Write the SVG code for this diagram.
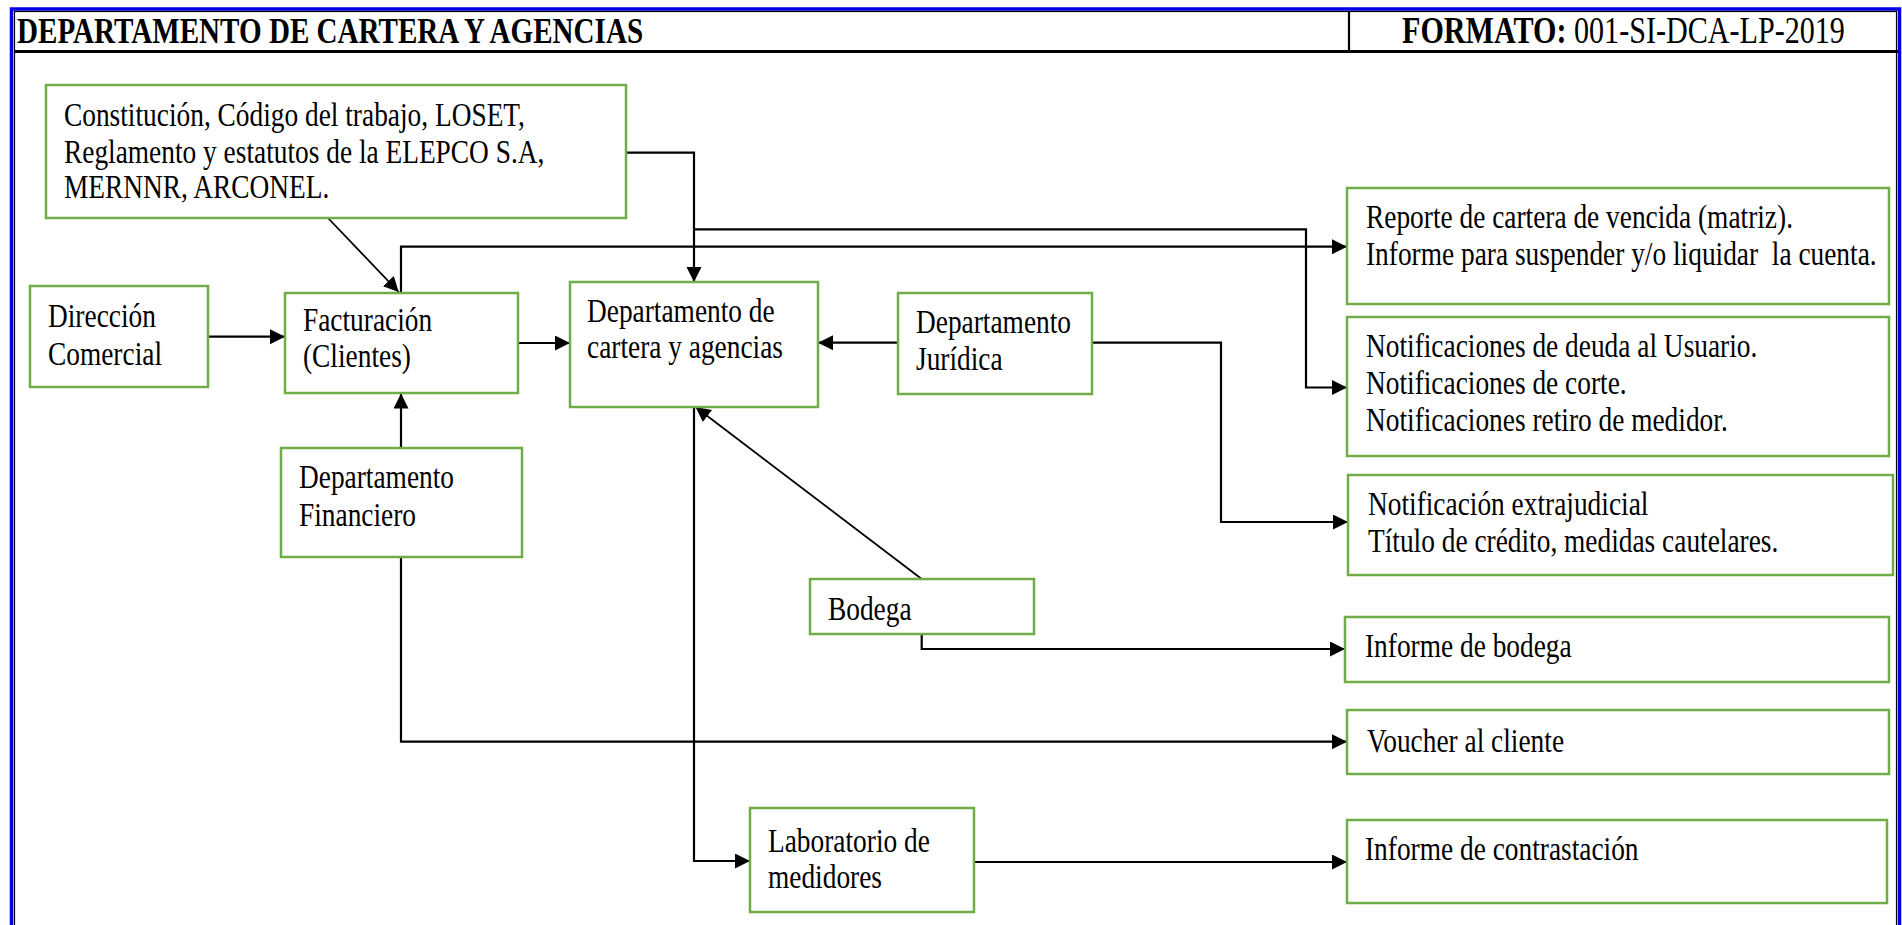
<svg xmlns="http://www.w3.org/2000/svg" width="1902" height="925" viewBox="0 0 1902 925">
  <style>
    .t { font-family: "Liberation Serif", "Times New Roman", serif; font-size: 34px; fill: #000; }
    .h { font-family: "Liberation Serif", "Times New Roman", serif; fill: #000; }
    .b { font-weight: bold; }
    .box { fill: #fff; stroke: #70AD47; stroke-width: 2.5; }
    .ln { fill: none; stroke: #000; stroke-width: 2.2; }
    .thin { stroke-width: 1.8; }
    .pre { white-space: pre; }
  </style>
  <defs>
    <marker id="arr" markerUnits="userSpaceOnUse" markerWidth="16" markerHeight="16" refX="15" refY="7.5" orient="auto">
      <path d="M0,0 L15,7.5 L0,15 Z" fill="#000"/>
    </marker>
  </defs>

  <rect width="1902" height="925" fill="#fff"/>

  <!-- page frame and header row -->
  <g id="frame">
    <rect x="11.5" y="9" width="1888" height="940" fill="none" stroke="#0000E6" stroke-width="3.5"/>
    <rect x="14.5" y="11.5" width="1882" height="935" fill="none" stroke="#000" stroke-width="1.2"/>
    <line x1="14" y1="51.5" x2="1898" y2="51.5" stroke="#000" stroke-width="3"/>
    <line x1="1349" y1="11" x2="1349" y2="51" stroke="#000" stroke-width="2.2"/>
    <text class="h b" font-size="36.5" transform="matrix(.797 0 0 1 17 0)" y="43">DEPARTAMENTO DE CARTERA Y AGENCIAS</text>
    <text class="h" font-size="37.5" transform="matrix(.803 0 0 1 1402 0)" y="43"><tspan class="b">FORMATO:</tspan> 001-SI-DCA-LP-2019</text>
  </g>

  <!-- connectors -->
  <g id="connectors">
    <path class="ln" d="M208,336.7 H285" marker-end="url(#arr)"/>
    <path class="ln" d="M518,343 H570" marker-end="url(#arr)"/>
    <path class="ln" d="M898,342.7 H818" marker-end="url(#arr)"/>
    <path class="ln thin" d="M328,218 L398.7,292" marker-end="url(#arr)"/>
    <path class="ln" d="M627,152.7 H694 V282" marker-end="url(#arr)"/>
    <path class="ln" d="M694,229.3 H1306 V387.5 H1347" marker-end="url(#arr)"/>
    <path class="ln" d="M401,293 V246.7 H1347" marker-end="url(#arr)"/>
    <path class="ln" d="M401,448 V393.5" marker-end="url(#arr)"/>
    <path class="ln" d="M401,557 V741.7 H1347" marker-end="url(#arr)"/>
    <path class="ln thin" d="M921.7,579 L695.5,407" marker-end="url(#arr)"/>
    <path class="ln" d="M921.7,634 V649 H1345" marker-end="url(#arr)"/>
    <path class="ln" d="M694,407 V861 H750" marker-end="url(#arr)"/>
    <path class="ln" d="M974,862 H1347" marker-end="url(#arr)"/>
    <path class="ln" d="M1092,342.7 H1221 V522 H1348" marker-end="url(#arr)"/>
  </g>

  <g id="constitucion">
    <rect class="box" x="46" y="85" width="580" height="133"/>
    <text class="t" transform="matrix(.805 0 0 1 64 0)">
      <tspan x="0" y="126">Constitución, Código del trabajo, LOSET,</tspan>
      <tspan x="0" y="163">Reglamento y estatutos de la ELEPCO S.A,</tspan>
      <tspan x="0" y="198">MERNNR, ARCONEL.</tspan>
    </text>
  </g>

  <g id="direccion">
    <rect class="box" x="30" y="286" width="178" height="101"/>
    <text class="t" transform="matrix(.805 0 0 1 48 0)">
      <tspan x="0" y="327">Dirección</tspan>
      <tspan x="0" y="365">Comercial</tspan>
    </text>
  </g>

  <g id="facturacion">
    <rect class="box" x="285" y="293" width="233" height="100"/>
    <text class="t" transform="matrix(.805 0 0 1 303 0)">
      <tspan x="0" y="331">Facturación</tspan>
      <tspan x="0" y="367">(Clientes)</tspan>
    </text>
  </g>

  <g id="cartera">
    <rect class="box" x="570" y="282" width="248" height="125"/>
    <text class="t" transform="matrix(.805 0 0 1 587 0)">
      <tspan x="0" y="322">Departamento de</tspan>
      <tspan x="0" y="358">cartera y agencias</tspan>
    </text>
  </g>

  <g id="juridica">
    <rect class="box" x="898" y="293" width="194" height="101"/>
    <text class="t" transform="matrix(.805 0 0 1 916 0)">
      <tspan x="0" y="333">Departamento</tspan>
      <tspan x="0" y="370">Jurídica</tspan>
    </text>
  </g>

  <g id="financiero">
    <rect class="box" x="281" y="448" width="241" height="109"/>
    <text class="t" transform="matrix(.805 0 0 1 299 0)">
      <tspan x="0" y="488">Departamento</tspan>
      <tspan x="0" y="526">Financiero</tspan>
    </text>
  </g>

  <g id="bodega">
    <rect class="box" x="810" y="579" width="224" height="55"/>
    <text class="t" transform="matrix(.805 0 0 1 828 0)" y="620">Bodega</text>
  </g>

  <g id="laboratorio">
    <rect class="box" x="750" y="808" width="224" height="104"/>
    <text class="t" transform="matrix(.805 0 0 1 768 0)">
      <tspan x="0" y="852">Laboratorio de</tspan>
      <tspan x="0" y="888">medidores</tspan>
    </text>
  </g>

  <g id="reporte">
    <rect class="box" x="1347" y="188" width="542" height="116"/>
    <text class="t pre" transform="matrix(.805 0 0 1 1366 0)"><tspan x="0" y="228">Reporte de cartera de vencida (matriz).</tspan><tspan x="0" y="265">Informe para suspender y/o liquidar  la cuenta.</tspan></text>
  </g>

  <g id="notificaciones">
    <rect class="box" x="1347" y="317" width="542" height="139"/>
    <text class="t" transform="matrix(.805 0 0 1 1366 0)">
      <tspan x="0" y="357.5">Notificaciones de deuda al Usuario.</tspan>
      <tspan x="0" y="394.5">Notificaciones de corte.</tspan>
      <tspan x="0" y="431">Notificaciones retiro de medidor.</tspan>
    </text>
  </g>

  <g id="extrajudicial">
    <rect class="box" x="1348" y="475" width="545" height="100"/>
    <text class="t" transform="matrix(.805 0 0 1 1368 0)">
      <tspan x="0" y="515">Notificación extrajudicial</tspan>
      <tspan x="0" y="552">Título de crédito, medidas cautelares.</tspan>
    </text>
  </g>

  <g id="informe-bodega">
    <rect class="box" x="1345" y="617" width="544" height="65"/>
    <text class="t" transform="matrix(.805 0 0 1 1365 0)" y="657">Informe de bodega</text>
  </g>

  <g id="voucher">
    <rect class="box" x="1347" y="710" width="542" height="64"/>
    <text class="t" transform="matrix(.805 0 0 1 1367 0)" y="752">Voucher al cliente</text>
  </g>

  <g id="contrastacion">
    <rect class="box" x="1347" y="820" width="540" height="83"/>
    <text class="t" transform="matrix(.805 0 0 1 1365 0)" y="860">Informe de contrastación</text>
  </g>
</svg>
